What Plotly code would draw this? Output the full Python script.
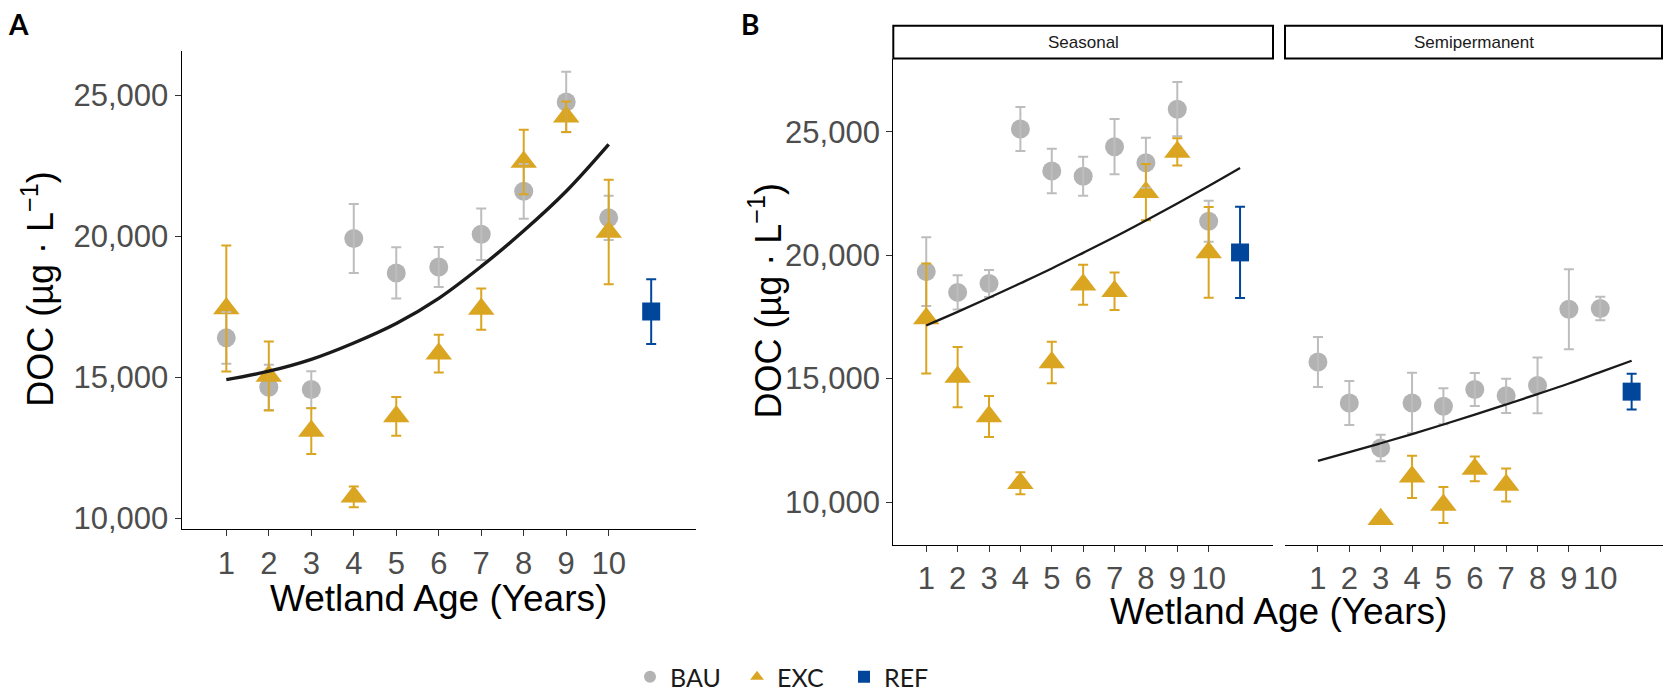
import plotly.graph_objects as go

W, H = 1663, 700

# ---------------- data ----------------
ages = list(range(1, 11))
ref_x = [11]

# Panel A: all wetlands
a_bau = [16400, 14650, 14570, 19920, 18700, 18910, 20070, 21590, 24750, 20650]
a_bau_err = [920, 800, 650, 1220, 910, 710, 910, 970, 1070, 780]
a_exc = [17440, 15050, 13100, 10770, 13620, 15840, 17420, 22630, 24230, 20150]
a_exc_err = [2230, 1225, 810, 370, 690, 670, 730, 1140, 540, 1850]
a_ref = [17330]
a_ref_err = [1150]
a_fit_x = list(range(1, 11))
a_fit = [14920, 15220, 15640, 16220, 16910, 17800, 18930, 20190, 21590, 23250]

# Panel B: seasonal wetlands
s_bau = [19330, 18490, 18850, 25110, 23410, 23190, 24390, 23740, 25910, 21370]
s_bau_err = [1390, 690, 550, 890, 900, 790, 1120, 1015, 1100, 830]
s_exc = [17430, 15060, 13460, 10760, 15650, 18800, 18540, 22550, 24180, 20110]
s_exc_err = [2230, 1220, 830, 450, 840, 810, 760, 1140, 550, 1840]
s_ref = [20110]
s_ref_err = [1845]
s_fit_x = list(range(1, 12))
s_fit = [17150, 17700, 18270, 18860, 19460, 20090, 20730, 21400, 22090, 22800, 23530]

# Panel B: semipermanent wetlands
p_bau = [15670, 14010, 12190, 14010, 13880, 14560, 14300, 14720, 17810, 17840]
p_bau_err = [1015, 890, 535, 1230, 730, 670, 690, 1130, 1620, 475]
p_exc_x = [3, 4, 5, 6, 7]
p_exc = [9300, 11020, 9880, 11340, 10690]
p_exc_err = [None, 855, 730, 500, 665]
p_ref = [14470]
p_ref_err = [726]
p_fit_x = list(range(1, 12))
p_fit = [11670, 12020, 12380, 12750, 13140, 13540, 13950, 14370, 14800, 15260, 15720]

y_ticks = [10000, 15000, 20000, 25000]
y_ticktext = ["10,000", "15,000", "20,000", "25,000"]
x_ticktext = [str(a) for a in ages]

# ---------------- styles ----------------
C_BAU, C_BAU_ERR = "#B3B3B3", "#BDBDBD"
C_EXC = "#DAA520"
C_REF = "#00479B"
SYM = {"BAU": "circle", "EXC": "triangle-up", "REF": "square"}
SIZE = {"BAU": 19, "EXC": 23, "REF": 18}
COL = {"BAU": C_BAU, "EXC": C_EXC, "REF": C_REF}
ERRCOL = {"BAU": C_BAU_ERR, "EXC": C_EXC, "REF": C_REF}
FONT = "Liberation Sans, Arial, sans-serif"

fig = go.Figure()


def add_points(xs, ys, grp, xa, ya, legend=False):
    fig.add_trace(go.Scatter(
        x=xs, y=ys, mode="markers", name=grp, legendgroup=grp,
        showlegend=legend, xaxis=xa, yaxis=ya,
        marker=dict(symbol=SYM[grp], size=SIZE[grp], color=COL[grp],
                    line=dict(width=0)),
        hoverinfo="skip"))


def add_errors(xs, ys, errs, grp, xa, ya):
    keep = [i for i, e in enumerate(errs) if e is not None]
    fig.add_trace(go.Scatter(
        x=[xs[i] for i in keep], y=[ys[i] for i in keep], mode="markers",
        showlegend=False, xaxis=xa, yaxis=ya,
        marker=dict(size=1, opacity=0),
        error_y=dict(type="data", array=[errs[i] for i in keep],
                     color=ERRCOL[grp], thickness=2, width=5),
        hoverinfo="skip"))


def add_fit(xs, ys, xa, ya, lw):
    fig.add_trace(go.Scatter(
        x=xs, y=ys, mode="lines", showlegend=False, xaxis=xa, yaxis=ya,
        line=dict(color="#1A1A1A", width=lw, shape="spline", smoothing=1.0),
        hoverinfo="skip"))


panels = [
    ("x", "y", ages, a_bau, a_bau_err, ages, a_exc, a_exc_err, a_ref, a_ref_err,
     a_fit_x, a_fit, 3.4, True),
    ("x2", "y2", ages, s_bau, s_bau_err, ages, s_exc, s_exc_err, s_ref, s_ref_err,
     s_fit_x, s_fit, 2.3, False),
    ("x3", "y3", ages, p_bau, p_bau_err, p_exc_x, p_exc, p_exc_err, p_ref, p_ref_err,
     p_fit_x, p_fit, 2.3, False),
]

for (xa, ya, bx, by, be, ex, ey, ee, ry, re_, fx, fy, lw, leg) in panels:
    add_points(bx, by, "BAU", xa, ya, leg)
    add_points(ex, ey, "EXC", xa, ya, leg)
    add_points(ref_x, ry, "REF", xa, ya, leg)
    add_errors(bx, by, be, "BAU", xa, ya)
    add_errors(ex, ey, ee, "EXC", xa, ya)
    add_errors(ref_x, ry, re_, "REF", xa, ya)
    add_fit(fx, fy, xa, ya, lw)


def px_x(p):
    return p / W


def px_y(p):
    return 1 - p / H


axis_common = dict(
    showgrid=False, zeroline=False, showline=True, linecolor="black",
    linewidth=1.4, ticks="outside", ticklen=6, tickwidth=1.3,
    tickcolor="#333333", tickfont=dict(family=FONT, size=31, color="#4D4D4D"),
)
xaxis_common = dict(axis_common, range=[-0.05, 12.05], tickmode="array",
                    tickvals=ages, ticktext=x_ticktext)
yaxis_common = dict(axis_common, tickmode="array", tickvals=y_ticks,
                    ticktext=y_ticktext)

fig.update_layout(
    width=W, height=H,
    margin=dict(l=0, r=0, t=0, b=0),
    paper_bgcolor="white", plot_bgcolor="white",
    xaxis=dict(xaxis_common, domain=[px_x(181.7), px_x(695.8)], anchor="y"),
    yaxis=dict(yaxis_common, domain=[px_y(535.4), px_y(51.4)],
               range=[9622, 26565], anchor="x"),
    xaxis2=dict(xaxis_common, domain=[px_x(893.3), px_x(1273)], anchor="y2"),
    yaxis2=dict(yaxis_common, domain=[px_y(551), px_y(59.3)],
                range=[8271, 27958], anchor="x2"),
    xaxis3=dict(xaxis_common, domain=[px_x(1285), 1.0], range=[-0.05, 12.0],
                anchor="y3"),
    yaxis3=dict(domain=[px_y(551), px_y(59.3)], range=[8271, 27958],
                matches="y2", anchor="x3", visible=False),
    showlegend=True,
    legend=dict(orientation="h", x=px_x(630), y=px_y(685),
                xanchor="left", yanchor="middle",
                font=dict(family="Lato, sans-serif", size=25, color="#1A1A1A"),
                entrywidth=62, itemsizing="constant",
                bgcolor="rgba(0,0,0,0)", traceorder="normal"),
)

# facet strips
strips = [("Seasonal", 893.3, 1273), ("Semipermanent", 1285, 1662)]
for label, x0, x1 in strips:
    fig.add_shape(type="rect", xref="paper", yref="paper",
                  x0=px_x(x0), x1=px_x(x1), y0=px_y(59.3), y1=px_y(26),
                  line=dict(color="black", width=2), fillcolor="white")
    fig.add_annotation(text=label, xref="paper", yref="paper",
                       x=px_x((x0 + x1) / 2), y=px_y(42.6), showarrow=False,
                       xanchor="center", yanchor="middle",
                       font=dict(family=FONT, size=17, color="#1A1A1A"))

y_title = "DOC (µg · L<sup>−1</sup>)"
x_title = "Wetland Age (Years)"
texts = [
    (y_title, 38, 293, -90, 36),
    (y_title, 765, 305, -90, 36),
    (x_title, 438, 605, 0, 37),
    (x_title, 1278, 619, 0, 37),
]
for t, x, y, ang, sz in texts:
    fig.add_annotation(text=t, xref="paper", yref="paper", x=px_x(x), y=px_y(y),
                       showarrow=False, textangle=ang, xanchor="center",
                       yanchor="middle",
                       font=dict(family=FONT, size=sz, color="black"))

for lab, x, y in [("A", 18, 24), ("B", 750, 24)]:
    fig.add_annotation(text="<b>%s</b>" % lab, xref="paper", yref="paper",
                       x=px_x(x), y=px_y(y), showarrow=False,
                       xanchor="center", yanchor="middle",
                       font=dict(family="Lato, sans-serif", size=28, color="black"))

fig.write_html("out.html")
